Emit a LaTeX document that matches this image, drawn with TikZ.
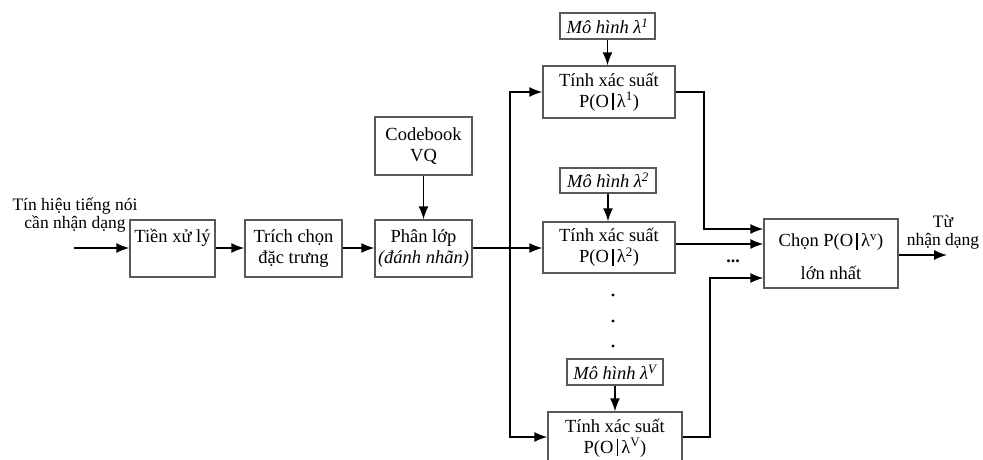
\documentclass[tikz,border=0pt]{standalone}
\usepackage{fontspec}
\setmainfont{Liberation Serif}
\usetikzlibrary{arrows.meta,calc}
\newcommand{\vbar}{\,\rule[-3pt]{1.8pt}{17pt}\,}
\begin{document}
\begin{tikzpicture}[x=1pt,y=-1pt,
  box/.style={draw=black!65,line width=1.4pt,rectangle,align=center,inner sep=0pt,
    font=\fontsize{18.5}{21}\selectfont},
  mbox/.style={draw=black!65,line width=1.4pt,rectangle,inner sep=0pt,
    font=\fontsize{18.5}{20}\selectfont\itshape},
  lbl/.style={align=center,font=\fontsize{17.5}{18}\selectfont,inner sep=0pt},
  conn/.style={line width=1.5pt,draw=black},
  arr/.style={conn,-{Latex[length=13pt,width=10pt]}}]
\useasboundingbox (0,0) rectangle (983,459);
\clip (0,0) rectangle (983,459);
% boxes
\node[box,minimum width=85pt,minimum height=57pt] (tien) at (172.5,248.5) {Tiền xử lý\\[4pt]~};
\node[box,minimum width=97pt,minimum height=57pt] (trich) at (293.5,248.5) {Trích chọn\\đặc trưng};
\node[box,minimum width=97pt,minimum height=57pt] (phan) at (423.5,248.5) {Phân lớp\\\textit{(đánh nhãn)}};
\node[box,minimum width=97pt,minimum height=58pt] (code) at (423.5,146) {Codebook\\VQ};
\node[box,minimum width=132pt,minimum height=52pt] (tinh1) at (609,92) {Tính xác suất\\P(O\vbar λ\textsuperscript{1})};
\node[box,minimum width=132pt,minimum height=51pt] (tinh2) at (609,247.5) {Tính xác suất\\P(O\vbar λ\textsuperscript{2})};
\node[box,minimum width=134pt,minimum height=52pt] (tinhv) at (615,438) {Tính xác suất\\P(O\vbar λ\textsuperscript{V})};
\node[mbox,minimum width=95pt,minimum height=26pt] (m1) at (607.5,26) {Mô hình λ\textsuperscript{1}};
\node[mbox,minimum width=96pt,minimum height=25pt] (m2) at (608,180.5) {Mô hình λ\textsuperscript{2}};
\node[mbox,minimum width=96pt,minimum height=26pt] (mv) at (615,372) {Mô hình λ\textsuperscript{V}};
\node[box,minimum width=134pt,minimum height=69pt] (chon) at (831,253.5) {};
\node[font=\fontsize{18.5}{33}\selectfont,align=center,inner sep=0pt] (chontxt) at ($(chon.center)+(0,3)$) {Chọn P(O\vbar λ\textsuperscript{v})\\lớn nhất};
% labels
\node[lbl] (inlbl) at (75,215) {Tín hiệu tiếng nói\\cần nhận dạng};
\node[lbl] (outlbl) at (943,232) {Từ\\nhận dạng};
\node[font=\bfseries\fontsize{18}{20}\selectfont,inner sep=0pt] (dots) at (733,261) {...};
\fill (613,295) circle (1.7pt) (613,321) circle (1.7pt) (613,346) circle (1.7pt);
% coordinates
\coordinate (in) at (74,248);
\coordinate (out) at (947,255);
\coordinate (j) at (510,248);
\coordinate (b1) at (704,92);
\coordinate (bv) at (710,437);
% connectors
\draw[arr] (in) -- (in-|tien.west);
\draw[arr] (tien.east|-in) -- (trich.west|-in);
\draw[arr] (trich.east|-in) -- (phan.west|-in);
\draw[arr] (code.south) -- (phan.north);
\draw[arr] (phan.east|-in) -- (tinh2.west|-in);
\draw[arr] (j) |- (tinh1.west);
\draw[arr] (j) |- (tinhv.west|-bv);
\draw[arr] (m1.south) -- (m1.south|-tinh1.north);
\draw[arr] (m2.south) -- (m2.south|-tinh2.north);
\draw[arr] (mv.south) -- (mv.south|-tinhv.north);
\draw[arr] (tinh1.east) -- (b1) |- ($(chon.west)+(0,-24.5)$);
\draw[arr] (tinh2.east|-0,244) -- (chon.west|-0,244);
\draw[arr] (tinhv.east|-bv) -- (bv) |- ($(chon.west)+(0,24.5)$);
\draw[arr] (chon.east|-out) -- (out);
\end{tikzpicture}
\end{document}
